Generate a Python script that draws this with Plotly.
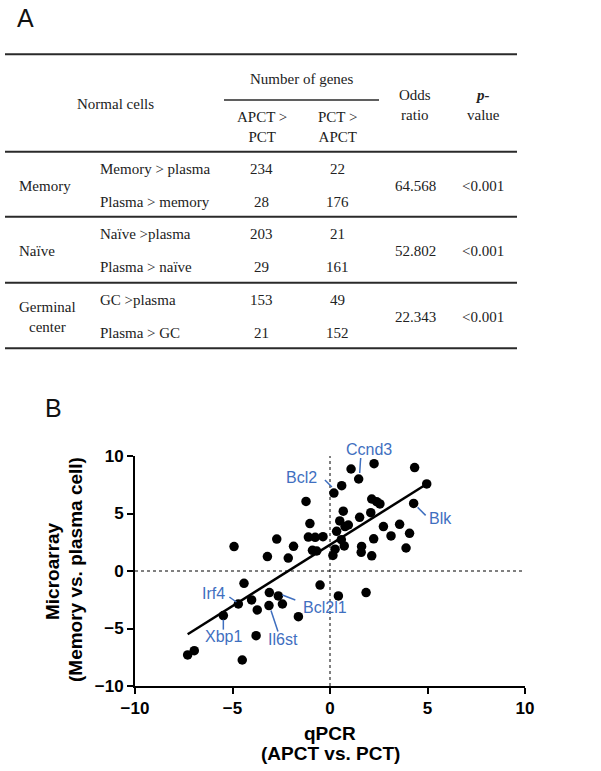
import html
import plotly.graph_objects as go

# ---------------- Panel A: table data ----------------
header_normal = "Normal cells"
header_genes = "Number of genes"
header_cols = ["APCT ><br>PCT", "PCT ><br>APCT"]
header_odds = "Odds<br>ratio"
header_p = "<b><i>p-</i></b><br>value"

normal_groups = ["Memory", "Naïve", "Germinal<br>center"]
comparisons = [["Memory > plasma", "Plasma > memory"],
               ["Naïve >plasma", "Plasma > naïve"],
               ["GC >plasma", "Plasma > GC"]]
apct_gt_pct = [[234, 28], [203, 29], [153, 21]]
pct_gt_apct = [[22, 176], [21, 161], [49, 152]]
odds_ratio = ["64.568", "52.802", "22.343"]
p_values = ["<0.001", "<0.001", "<0.001"]

# ---------------- Panel B: scatter data ----------------
qpcr = [-1.23, 0.20, 0.60, 1.08, 2.26, 1.47, 4.34, 4.96, 4.29, 2.14,
        2.39, 2.56, 0.68, 2.09, 1.52, 0.50, -1.03, 0.94, 0.77, 2.74,
        3.57, 0.34, 3.13, 4.08, -1.11, -0.76, -0.36, -1.87, 0.58, 2.24,
        -0.90, -0.68, 0.73, 0.26, 0.15, 1.62, 1.60, 2.14, 3.90, -2.14,
        -2.73, -4.92, -3.21, -0.51, 0.43, 1.85, -4.41, -4.70, -4.02, -3.11,
        -2.65, -2.44, -3.73, -3.13, -1.62, -5.47, -3.79, -6.96, -7.30, -4.50]
microarray = [6.05, 6.78, 7.42, 8.87, 9.33, 8.00, 8.99, 7.57, 5.88, 6.26,
              6.03, 5.83, 5.20, 5.07, 4.67, 4.35, 4.12, 4.00, 3.86, 3.86,
              4.06, 3.45, 3.05, 3.28, 2.95, 2.93, 2.98, 2.15, 2.72, 2.80,
              1.80, 1.74, 2.18, 1.90, 1.35, 2.14, 1.62, 1.32, 2.00, 1.12,
              2.78, 2.12, 1.25, -1.22, -2.17, -1.88, -1.07, -2.87, -2.52, -1.88,
              -2.17, -2.87, -3.39, -3.01, -3.97, -3.88, -5.62, -6.93, -7.30, -7.74]

fit_slope = 1.066
fit_intercept = 2.28

# labelled genes: (name, point index)
gene_labels = [("Bcl2", 1), ("Ccnd3", 5), ("Blk", 8), ("Irf4", 47),
               ("Xbp1", 55), ("Il6st", 53), ("Bcl2l1", 50)]

W, H = 601, 771
def px(x):
    return x / W
def py(y):
    return 1 - y / H

TXT = "#222222"
SERIF = "Liberation Serif"
SANS = "Liberation Sans"
BLUE = "#3f6fbf"

annotations = []
shapes = []

def tbl(text, x, y, xanchor="center", size=15):
    annotations.append(dict(text=text, x=px(x), y=py(y), xref="paper", yref="paper",
                            xanchor=xanchor, yanchor="middle", showarrow=False,
                            font=dict(family=SERIF, size=size, color=TXT)))

def hline(y, x0, x1, w):
    shapes.append(dict(type="line", xref="paper", yref="paper",
                       x0=px(x0), x1=px(x1), y0=py(y), y1=py(y),
                       line=dict(color="#2a2a2a", width=w)))

# panel label
annotations.append(dict(text="A", x=px(25), y=py(18), xref="paper", yref="paper",
                        showarrow=False, xanchor="center", yanchor="middle",
                        font=dict(family=SANS, size=25, color="#111")))
annotations.append(dict(text="B", x=px(53), y=py(408), xref="paper", yref="paper",
                        showarrow=False, xanchor="center", yanchor="middle",
                        font=dict(family=SANS, size=25, color="#111")))

# table header
col_apct, col_pct, col_odds, col_p = 261.5, 337.7, 415, 483.3
tbl(header_genes, 301.7, 79)
tbl(header_normal, 115, 104.3)
tbl(header_odds, col_odds, 104.7)
tbl(header_p, col_p, 104.7)
tbl(html.escape(header_cols[0].replace("<br>", "\n")).replace("\n", "<br>"), col_apct, 126.9)
tbl(html.escape(header_cols[1].replace("<br>", "\n")).replace("\n", "<br>"), col_pct, 126.9)

hline(54.3, 5, 517, 2)
hline(100, 224, 379, 1.5)
block_tops = [151.7, 216.7, 282.7]
block_h = 65.8
for bt in block_tops:
    hline(bt, 5, 517, 2)
hline(348.3, 5, 517, 2)

for g in range(len(normal_groups)):
    bt = block_tops[g]
    mid = bt + block_h / 2 + 1.5
    tbl(normal_groups[g], 16.7, mid, xanchor="left")
    for r in range(2):
        yrow = bt + 17.6 + 33 * r
        tbl(html.escape(comparisons[g][r]), 97.7, yrow, xanchor="left")
        tbl(str(apct_gt_pct[g][r]), col_apct, yrow)
        tbl(str(pct_gt_apct[g][r]), col_pct, yrow)
    tbl(odds_ratio[g], col_odds, mid)
    tbl(html.escape(p_values[g]), col_p, mid)

# ---------------- scatter ----------------
fig = go.Figure()
x_min, x_max = min(qpcr), max(qpcr)
fig.add_trace(go.Scatter(x=[x_min, x_max],
                         y=[fit_slope * x_min + fit_intercept, fit_slope * x_max + fit_intercept],
                         mode="lines", line=dict(color="black", width=2.5),
                         showlegend=False, hoverinfo="skip"))
fig.add_trace(go.Scatter(x=qpcr, y=microarray, mode="markers",
                         marker=dict(color="black", size=9.5, line=dict(width=0)),
                         showlegend=False))

# zero reference lines
shapes.append(dict(type="line", xref="x", yref="y", x0=0, x1=0, y0=-10, y1=10,
                   line=dict(color="black", width=1, dash="dot"), layer="below"))
shapes.append(dict(type="line", xref="x", yref="y", x0=-10, x1=10, y0=0, y1=0,
                   line=dict(color="black", width=1, dash="dot"), layer="below"))

# gene label placement: text shift and leader line (pixels, up positive)
label_style = {
    "Bcl2":   dict(shift=(-32, 16), line=(-9, 13, -2, 6)),
    "Ccnd3":  dict(shift=(10, 30), line=(2, 21, 1, 6)),
    "Blk":    dict(shift=(27, -15), line=(4, -4, 12, -12)),
    "Irf4":   dict(shift=(-25, 11), line=(-9, 7, -2, 2)),
    "Xbp1":   dict(shift=(0, -21), line=(0, -4, 0, -14)),
    "Il6st":  dict(shift=(14, -34), line=(2, -5, 9, -26)),
    "Bcl2l1": dict(shift=(47, -12), line=(4, 1, 17, -4)),
}
for name, idx in gene_labels:
    st = label_style[name]
    xv, yv = qpcr[idx], microarray[idx]
    annotations.append(dict(text=name, x=xv, y=yv, xref="x", yref="y",
                            xshift=st["shift"][0], yshift=st["shift"][1],
                            showarrow=False, xanchor="center", yanchor="middle",
                            font=dict(family=SANS, size=16, color=BLUE)))
    l = st["line"]
    shapes.append(dict(type="line", xref="x", yref="y", xsizemode="pixel", ysizemode="pixel",
                       xanchor=xv, yanchor=yv, x0=l[0], y0=l[1], x1=l[2], y1=l[3],
                       line=dict(color=BLUE, width=1.5)))

# axis titles
def title(text, x, y, angle=0):
    annotations.append(dict(text="<b>" + text + "</b>", x=px(x), y=py(y), xref="paper", yref="paper",
                            showarrow=False, xanchor="center", yanchor="middle", textangle=angle,
                            font=dict(family=SANS, size=19, color="black")))
title("qPCR", 330, 733.5)
title("(APCT vs. PCT)", 330, 753.5)
title("Microarray", 52, 571, -90)
title("(Memory vs. plasma cell)", 75, 570, -90)

axis_common = dict(range=[-10, 10], tickvals=[-10, -5, 0, 5, 10],
                   showgrid=False, zeroline=False, showline=True, linecolor="black",
                   linewidth=2, ticks="outside", ticklen=6, tickwidth=2, tickcolor="black",
                   tickfont=dict(family=SANS, size=17, color="black", weight="bold"),
                   automargin=False, fixedrange=True)

fig.update_layout(
    width=W, height=H,
    margin=dict(l=0, r=0, t=0, b=0),
    paper_bgcolor="white", plot_bgcolor="white",
    xaxis=dict(domain=[px(135), px(525)], anchor="y", **axis_common),
    yaxis=dict(domain=[py(686), py(456)], anchor="x", **axis_common),
    annotations=annotations,
    shapes=shapes,
    showlegend=False,
)

fig.write_html("out.html", post_script="document.body.style.margin='0';",
               config={"displayModeBar": False})
